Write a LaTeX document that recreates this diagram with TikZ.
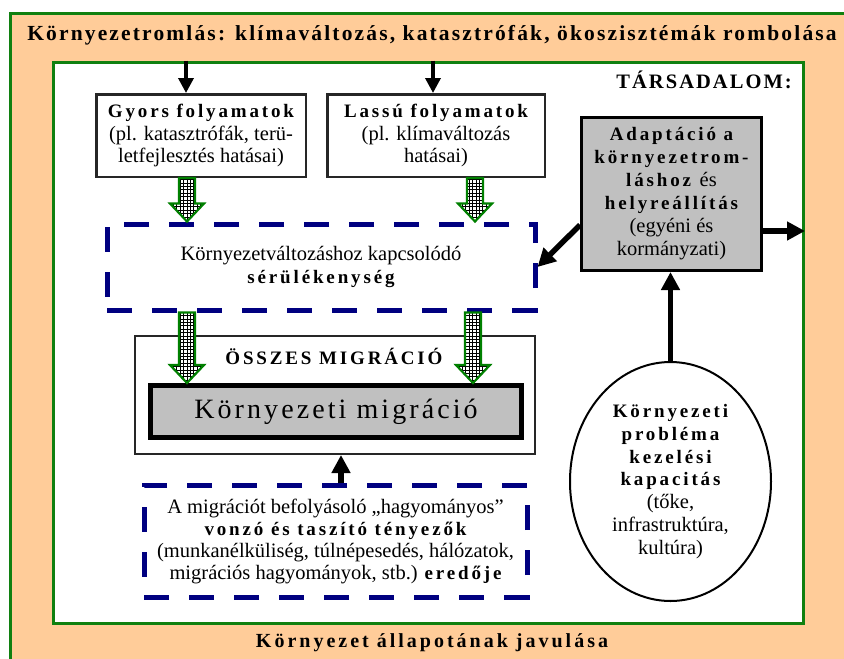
\documentclass[tikz,border=0pt]{standalone}
\usepackage{fontspec}
\setmainfont{Liberation Serif}
\newfontfamily\spc[LetterSpace=15]{Liberation Serif}
\newfontfamily\spcr[LetterSpace=10]{Liberation Serif}
\newfontfamily\spct[LetterSpace=10]{Liberation Serif}
\newfontfamily\spcm[LetterSpace=11]{Liberation Serif}
\usetikzlibrary{arrows.meta,shapes.geometric,patterns,calc}
\pgfdeclarepatternformonly{dgrid}{\pgfqpoint{-1pt}{-1pt}}{\pgfqpoint{4.5pt}{4.5pt}}{\pgfqpoint{3.4pt}{3.4pt}}{
  \pgfsetlinewidth{0.9pt}
  \pgfpathmoveto{\pgfqpoint{0pt}{0pt}}\pgfpathlineto{\pgfqpoint{3.4pt}{0pt}}
  \pgfpathmoveto{\pgfqpoint{0pt}{0pt}}\pgfpathlineto{\pgfqpoint{0pt}{3.4pt}}
  \pgfusepath{stroke}}
\definecolor{peach}{RGB}{255,204,153}
\definecolor{frgreen}{RGB}{16,128,16}
\definecolor{navyd}{RGB}{0,0,128}
\definecolor{boxgray}{RGB}{192,192,192}
\definecolor{arrgreen}{RGB}{0,128,0}
\newcommand\bsp[1]{{\spc\bfseries\fontsize{19}{23}\selectfont #1}}
\newcommand\garrow[2]{\path[greenarrow] let \p1=(#1), \p2=(#2) in
  (\x1-8pt,\y1) -- (\x1+8pt,\y1) -- (\x1+8pt,\y2+18pt) -- (\x1+17pt,\y2+18pt)
  -- (\x1,\y2) -- (\x1-17pt,\y2+18pt) -- (\x1-8pt,\y2+18pt) -- cycle;}
\tikzset{
  frame/.style={draw=frgreen, line width=3pt},
  plainbox/.style={draw=black!85, line width=2.5pt, fill=white, align=center,
    inner sep=0pt, font=\fontsize{20.5}{22.5}\selectfont},
  dashbox/.style={draw=navyd, line width=5pt, dash pattern=on 25pt off 20pt,
    align=center, inner sep=0pt, font=\fontsize{20.5}{22.5}\selectfont},
  thinarrow/.style={line width=3.5pt, -{Triangle[width=15pt,length=15pt]}},
  thickarrow/.style={line width=5.5pt, -{Triangle[width=18pt,length=18pt]}},
  greenarrow/.style={draw=arrgreen, line width=2.2pt, pattern=dgrid,
    pattern color=black, preaction={fill=white}, line join=miter},
  boldlbl/.style={inner sep=0pt, font=\spc\bfseries\fontsize{19}{23}\selectfont}
}
\begin{document}
\begin{tikzpicture}[x=1pt,y=-1pt]
\useasboundingbox (0,0) rectangle (844,659);
\fill[white] (0,0) rectangle (844,659);
% outer environment frame
\draw[frame, fill=peach] (10.5,13.5) rectangle (880,700);
% society frame
\node[frame, fill=white, minimum width=750, minimum height=561, inner sep=0pt] (soc) at (428.5,342.5) {};

\node[anchor=base, inner sep=0pt, font=\spct\bfseries\fontsize{21.5}{24}\selectfont] (title) at (432,40)
  {Környezetromlás: klímaváltozás, katasztrófák, ökoszisztémák rombolása};
\node[anchor=base east, inner sep=0pt, font=\spcr\bfseries\fontsize{20.5}{23}\selectfont] (tars) at (792,88) {TÁRSADALOM:};
\node[anchor=base, inner sep=0pt, font=\spc\bfseries\fontsize{20}{24}\selectfont] (bottom) at (432,647)
  {Környezet állapotának javulása};

% process boxes
\node[plainbox, minimum width=209.5, minimum height=82.5] (gyors) at (201,135.5)
  {\bsp{Gyors folyamatok}\\(pl. katasztrófák, terü-\\letfejlesztés hatásai)};
\node[plainbox, minimum width=217.5, minimum height=82.5] (lassu) at (436,135.5)
  {\bsp{Lassú folyamatok}\\(pl. klímaváltozás\\hatásai)};

% adaptation box
\node[plainbox, draw=black, line width=3pt, fill=boxgray, minimum width=180, minimum height=153,
  font=\fontsize{20.5}{23}\selectfont] (adapt) at (671.5,194)
  {\bsp{Adaptáció a}\\\bsp{környezetrom-}\\\bsp{láshoz}\, és\\\bsp{helyreállítás}\\(egyéni és\\kormányzati)};

% vulnerability
\node[dashbox, minimum width=428, minimum height=86] (vuln) at (321,267)
  {Környezetváltozáshoz kapcsolódó\\\bsp{sérülékenység}};

% total migration
\node[draw=black!85, line width=2pt, fill=white, minimum width=400, minimum height=118, inner sep=0pt] (osszes) at (335,395) {};
\node[anchor=base, boldlbl] (osszeslbl) at (334,364) {ÖSSZES MIGRÁCIÓ};
\node[draw=black, line width=5pt, fill=boxgray, minimum width=371, minimum height=52, inner sep=0pt,
  font=\spcm\fontsize{28}{30}\selectfont] (envmig) at (336,411.5) {Környezeti migráció};

% push-pull factors
\node[dashbox, minimum width=383, minimum height=112, font=\fontsize{20.5}{22}\selectfont] (push) at (335.5,541)
  {A migrációt befolyásoló „hagyományos”\\\bsp{vonzó és taszító tényezők}\\(munkanélküliség, túlnépesedés, hálózatok,\\migrációs hagyományok, stb.) \bsp{eredője}};

% capacity ellipse
\node[ellipse, draw=black, line width=2pt, fill=white, minimum width=201, minimum height=239, inner sep=0pt,
  align=center, font=\fontsize{20.5}{22.8}\selectfont] (capac) at (670.5,481.5)
  {\bsp{Környezeti}\\\bsp{probléma}\\\bsp{kezelési}\\\bsp{kapacitás}\\(tőke,\\infrastruktúra,\\kultúra)};

% black arrows
\coordinate (t1) at (soc.north -| 186,0);
\coordinate (t2) at (soc.north -| 433,0);
\draw[thinarrow] (t1) -- (t1 |- gyors.north);
\draw[thinarrow] (t2) -- (t2 |- lassu.north);
\coordinate (ar) at (adapt.east |- 0,231);
\draw[thickarrow] (ar) -- (ar -| soc.east);
\coordinate (al) at (adapt.west |- 0,225);
\draw[thickarrow] (al) -- (vuln.east);
\draw[thickarrow] (capac.north) -- (capac.north |- adapt.south);
\coordinate (pu) at (push.north -| 341,0);
\draw[thickarrow] (pu) -- (pu |- osszes.south);

% green hatched arrows
\coordinate (g1s) at (gyors.south -| 187,0);
\coordinate (g1e) at (g1s |- vuln.north);
\coordinate (g2s) at (lassu.south -| 475,0);
\coordinate (g2e) at (g2s |- vuln.north);
\coordinate (g3s) at (vuln.south -| 187,0);
\coordinate (g3e) at (g3s |- envmig.north);
\coordinate (g4s) at (vuln.south -| 473,0);
\coordinate (g4e) at (g4s |- envmig.north);
\garrow{g1s}{g1e}
\garrow{g2s}{g2e}
\garrow{g3s}{g3e}
\garrow{g4s}{g4e}
\end{tikzpicture}
\end{document}
